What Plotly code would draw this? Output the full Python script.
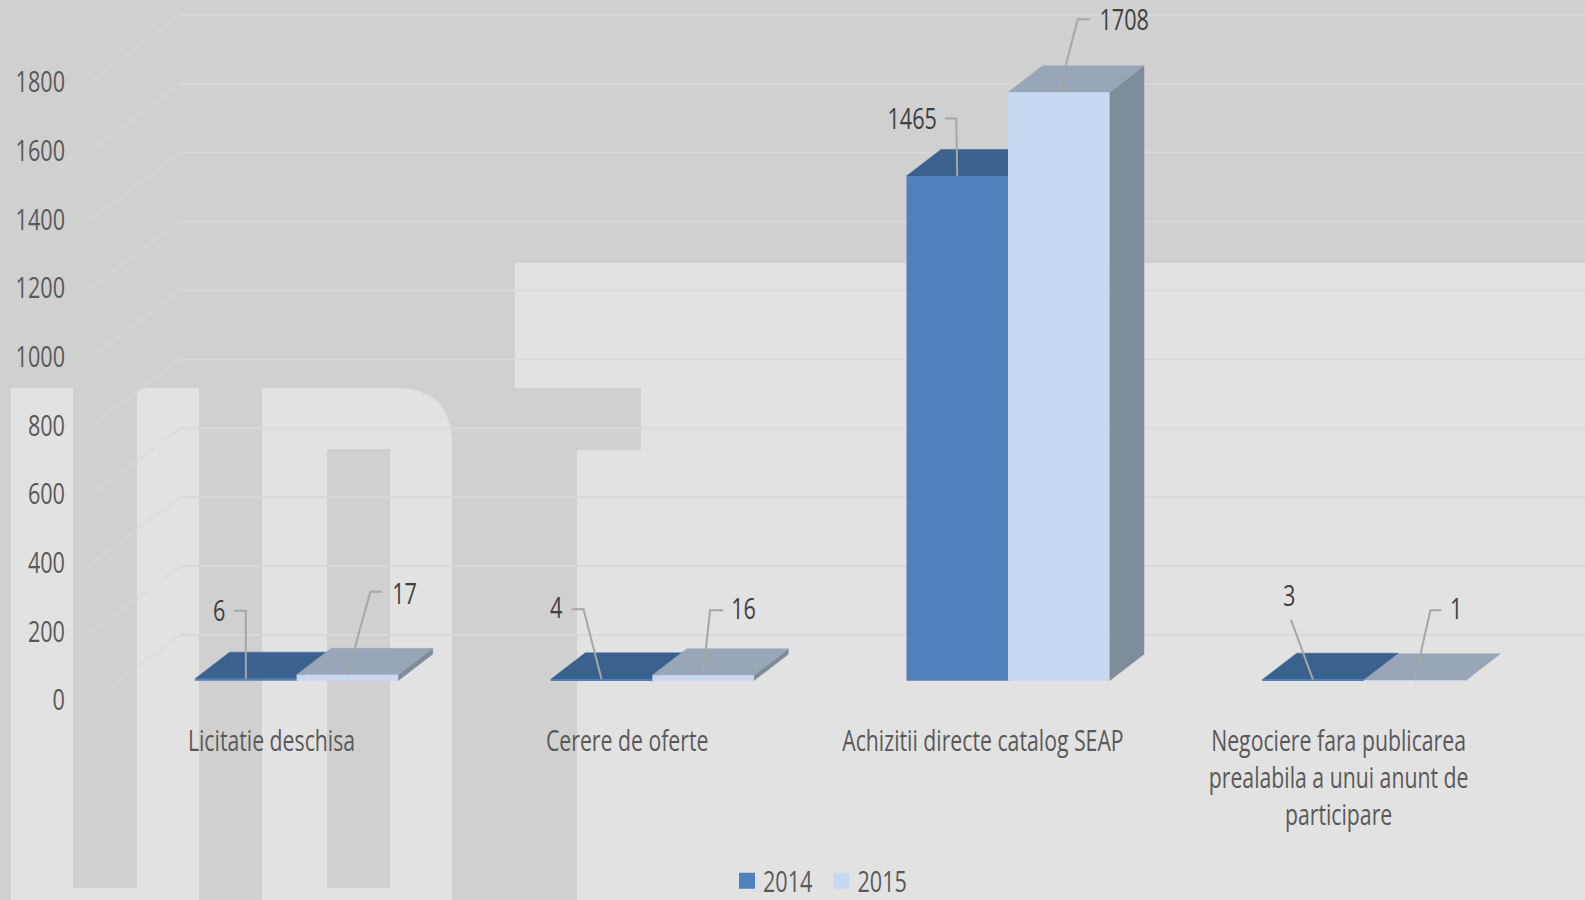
import plotly.graph_objects as go

# ---------- data ----------
categories = ["Licitatie deschisa", "Cerere de oferte", "Achizitii directe catalog SEAP",
              "Negociere fara publicarea<br>prealabila a unui anunt de<br>participare"]
series_names = ["2014", "2015"]
values_2014 = [6, 4, 1465, 3]
values_2015 = [17, 16, 1708, 1]
axis_ticks = [0, 200, 400, 600, 800, 1000, 1200, 1400, 1600, 1800]

# ---------- geometry ----------
W, H = 1585, 900
PX_PER_UNIT = 0.3445
LABEL_PX_PER_UNIT = 0.3432
CAT_STEP = 355.7
BAR_ZERO_PX, LABEL_ZERO_PX = 680.7, 700.0
X0_BARS, X0_LABELS = 296.6, 271.5
BAR_W = 101.5 / CAT_STEP
DEPTH_X = 34.5 / CAT_STEP
DEPTH_Y = 26.5 / PX_PER_UNIT
FONT = "Open Sans"
CONDENSE = 0.745
GRID = "#d9d9d9"
DARK, LIGHT = "#d0d0d0", "#e2e2e2"

COLORS = {
    "2014": dict(front="#4f81bd", top="#3b618f", side="#3b618f"),
    "2015": dict(front="#c6d9f1", top="#98a6b8", side="#7f8c99"),
}

fig = go.Figure()

# ---------- grid walls (drawn on the bar scale, behind everything) ----------
def lx(px):
    return (px - X0_LABELS) / CAT_STEP

def wall_y(t, py_at_zero):
    return (LABEL_ZERO_PX - (py_at_zero - PX_PER_UNIT * t)) / LABEL_PX_PER_UNIT

for t in axis_ticks:
    fig.add_trace(go.Scatter(
        x=[lx(92), lx(180)], y=[wall_y(t, 701), wall_y(t, 635)],
        mode="lines", line=dict(color="#d7d7d7", width=1),
        hoverinfo="skip", showlegend=False, xaxis="x", yaxis="y"))
    fig.add_trace(go.Scatter(
        x=[lx(180), lx(W)], y=[wall_y(t, 635), wall_y(t, 635)],
        mode="lines", line=dict(color=GRID, width=1.8),
        hoverinfo="skip", showlegend=False, xaxis="x", yaxis="y"))

# ---------- 3D caps ----------
def poly(xs, ys, color):
    fig.add_trace(go.Scatter(
        x=xs + xs[:1], y=ys + ys[:1], mode="lines", fill="toself",
        fillcolor=color, line=dict(color=color, width=0.5),
        hoverinfo="skip", showlegend=False, xaxis="x2", yaxis="y2"))

for i in range(len(categories)):
    for name, vals, left in (("2014", values_2014, i - BAR_W), ("2015", values_2015, i)):
        v = vals[i]
        right = left + BAR_W
        poly([right, right + DEPTH_X, right + DEPTH_X, right],
             [0, DEPTH_Y, v + DEPTH_Y, v], COLORS[name]["side"])
        poly([left, right, right + DEPTH_X, left + DEPTH_X],
             [v, v, v + DEPTH_Y, v + DEPTH_Y], COLORS[name]["top"])

# ---------- bars ----------
for name, vals in (("2014", values_2014), ("2015", values_2015)):
    fig.add_trace(go.Bar(
        x=list(range(len(categories))), y=vals, name=name, offsetgroup=name,
        marker=dict(color=COLORS[name]["front"], line=dict(width=0)),
        hoverinfo="y", xaxis="x2", yaxis="y3"))

# ---------- leaders and data labels ----------
# per point: pixel offsets from the bar's top centre for the leader, then for the text
leaders = {
    ("2014", 0): ([(0, 68), (-12, 68)], (-26, 69)),
    ("2015", 0): ([(23, 83), (35, 83)], (57, 82)),
    ("2014", 1): ([(-18, 70), (-30, 70)], (-45, 73)),
    ("2015", 1): ([(7, 65), (20, 65)], (40, 68)),
    ("2014", 2): ([(-1, 57.5), (-12, 57.5)], (-45, 58.5)),
    ("2015", 2): ([(19, 73), (31, 73)], (65, 74)),
    ("2014", 3): ([(-22, 60)], (-23, 85.5)),
    ("2015", 3): ([(16, 70), (27, 70)], (42, 73)),
}
annotations = []
for name, vals, shift in (("2014", values_2014, -BAR_W / 2), ("2015", values_2015, BAR_W / 2)):
    for i, v in enumerate(vals):
        pts, txt = leaders[(name, i)]
        cx = i + shift
        xs = [cx] + [cx + p[0] / CAT_STEP for p in pts]
        ys = [v] + [v + p[1] / PX_PER_UNIT for p in pts]
        fig.add_trace(go.Scatter(
            x=xs, y=ys, mode="lines", line=dict(color="#a6a6a6", width=2),
            hoverinfo="skip", showlegend=False, xaxis="x2", yaxis="y4"))
        annotations.append(dict(
            x=cx, y=v, xref="x2", yref="y4", text=str(v), showarrow=False,
            xshift=txt[0], yshift=txt[1], xanchor="center", yanchor="middle",
            font=dict(family=FONT, size=29, color="#404040")))

# ---------- background watermark ----------
def fx(px): return px / W
def fy(py): return 1 - py / H

def rect(x0, y0, x1, y1, color=LIGHT):
    return dict(type="rect", xref="paper", yref="paper", layer="below",
                x0=fx(x0), x1=fx(x1), y0=fy(y0), y1=fy(y1),
                fillcolor=color, line=dict(width=0))

def path(points_cmd):
    return dict(type="path", xref="paper", yref="paper", layer="below",
                path=points_cmd, fillcolor=LIGHT, line=dict(width=0))

def P(x, y):
    return f"{fx(x):.5f},{fy(y):.5f}"

shapes = [
    rect(515, 263, W, 388),
    rect(641, 388, W, 450),
    rect(577, 450, W, H),
    rect(11, 388, 73, H),
    rect(73, 888, 137, H),
    path(f"M{P(137,900)} L{P(137,396)} Q{P(137,388)} {P(145,388)} L{P(199,388)} L{P(199,900)} Z"),
    path(f"M{P(262,900)} L{P(262,388)} L{P(395,388)} Q{P(452,388)} {P(452,445)} L{P(452,900)} Z"),
    rect(327, 449, 390, 888, DARK),
]

# ---------- layout ----------
def rng(zero_px, scale=PX_PER_UNIT):
    return [-(H - zero_px) / scale, zero_px / scale]

hidden = dict(visible=False, fixedrange=True, showgrid=False, zeroline=False)
fig.update_layout(
    width=W, height=H, margin=dict(l=0, r=0, t=0, b=0, autoexpand=False), autosize=False,
    paper_bgcolor=DARK, plot_bgcolor="rgba(0,0,0,0)",
    barmode="group", bargap=1 - 2 * BAR_W, bargroupgap=0,
    shapes=shapes, annotations=annotations,
    font=dict(family=FONT),
    legend=dict(orientation="h", x=fx(723), y=fy(881), xanchor="left", yanchor="middle",
                bgcolor="rgba(0,0,0,0)", font=dict(family=FONT, size=29, color="#595959"),
                entrywidth=49.5, entrywidthmode="pixels",
                itemclick=False, itemdoubleclick=False),
    xaxis=dict(range=[lx(0), lx(W)], tickvals=list(range(len(categories))), ticktext=categories,
               anchor="free", position=fy(721), ticks="", showgrid=False, zeroline=False,
               showline=False, tickangle=0, fixedrange=True, automargin=False,
               tickfont=dict(family=FONT, size=28.5, color="#595959")),
    xaxis2=dict(range=[-X0_BARS / CAT_STEP, (W - X0_BARS) / CAT_STEP], overlaying="x", **hidden),
    yaxis=dict(range=rng(LABEL_ZERO_PX, LABEL_PX_PER_UNIT), tickvals=axis_ticks,
               ticktext=[str(t) for t in axis_ticks],
               anchor="free", position=fx(65), ticks="", showgrid=False, zeroline=False,
               showline=False, fixedrange=True, automargin=False,
               tickfont=dict(family=FONT, size=29, color="#595959")),
    yaxis2=dict(range=rng(BAR_ZERO_PX), overlaying="y", **hidden),
    yaxis3=dict(range=rng(BAR_ZERO_PX), overlaying="y", **hidden),
    yaxis4=dict(range=rng(BAR_ZERO_PX), overlaying="y", **hidden),
)

# The reference face is a condensed humanist; narrow the real text glyphs to match.
condense_js = """
document.body.style.margin='0';
document.querySelectorAll('svg text').forEach(function(t){
  var parts = t.querySelectorAll('tspan.line');
  (parts.length ? parts : [t]).forEach(function(n){
    var w = n.getComputedTextLength();
    if (w > 0) {
      n.setAttribute('textLength', (w * %s).toFixed(1));
      n.setAttribute('lengthAdjust', 'spacingAndGlyphs');
    }
  });
});
document.querySelectorAll('.legendpoints path').forEach(function(p){
  p.setAttribute('d', 'M8,8H-8V-8H8Z');
  p.setAttribute('transform', 'translate(24,0)');
});
""" % CONDENSE

fig.write_html("out.html", post_script=condense_js, config={"displayModeBar": False})
